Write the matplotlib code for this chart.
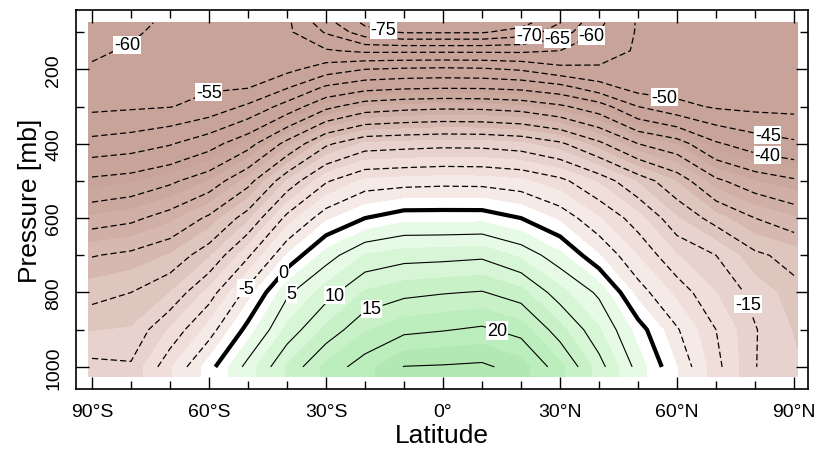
import numpy as np
import matplotlib
matplotlib.use("Agg")
import matplotlib.pyplot as plt
from matplotlib.colors import ListedColormap, BoundaryNorm

plt.rcParams['font.family'] = ['Liberation Sans', 'DejaVu Sans']

# zonal mean temperature [C]
lat = [-90, -80, -70, -60, -50, -40, -30, -20, -10, 0, 10, 20, 30, 40, 50, 60, 70, 80, 90]
pres = [75, 100, 150, 200, 250, 300, 400, 500, 600, 700, 800, 900, 1000]

t_75 = [-63, -62, -58.5, -56.5, -57, -59, -68, -76, -79, -79, -79, -77, -70, -61, -54.5, -54, -53.5, -53.5, -53.5]
t_100 = [-62.5, -61, -58, -56.5, -57, -59, -65.5, -73, -75.5, -75.5, -75.5, -73, -67.5, -60, -54.5, -54, -53.5, -53.5, -53.5]
t_150 = [-61, -59.3, -57.5, -56, -56.5, -58, -59.5, -61, -61, -61, -61, -61, -60, -57, -54.5, -54, -53.5, -53.5, -53]
t_200 = [-59.3, -58.1, -57, -55.8, -56, -56.3, -52.5, -50, -49.3, -49, -49.3, -50.5, -53.6, -54.4, -54, -53.5, -53, -53, -52.5]
t_250 = [-57.8, -56.9, -56.3, -55.5, -55.1, -50.2, -44, -41.4, -40.5, -40.2, -40.3, -41, -43, -47.7, -52, -52, -52, -52.5, -52]
t_300 = [-56.2, -55.7, -55.2, -53.3, -49.1, -43, -36.2, -32.5, -31.5, -31, -31.2, -32, -34.2, -37.7, -45, -48.6, -50.6, -51.3, -51.5]
t_400 = [-48.5, -47.5, -45.4, -41.9, -36.7, -28.6, -20.7, -17, -16.5, -16.1, -16.2, -17, -19.3, -24.1, -30, -32.9, -39.4, -42.5, -44.2]
t_500 = [-39, -38, -35.8, -32.5, -26.4, -17.4, -10.4, -6.9, -6.4, -6.1, -6.2, -7, -9.1, -12.9, -17.9, -22.7, -29.2, -32.5, -34.4]
t_600 = [-32, -30.9, -28.3, -24.3, -18.2, -9, -3.1, 0, 1.7, 1.7, 1.7, 0, -3.1, -7.3, -11.5, -17.3, -21.4, -25, -27.4]
t_700 = [-25.2, -24.2, -22.3, -18, -10.5, -2.3, 3.6, 7.7, 8.8, 9.0, 9.4, 7, 3.2, -2.4, -7.6, -12.4, -15, -19.3, -21.2]
t_800 = [-21.1, -20, -17.5, -11.6, -3.8, 4.4, 8.8, 12.8, 14.2, 14.8, 15.2, 13.4, 8.4, 4.4, -3.6, -8.3, -12.5, -16, -19]
t_900 = [-17.7, -17.3, -12.2, -6.5, 1.1, 8.2, 13.1, 17.2, 19.2, 19.8, 20.5, 18.9, 13.4, 7.8, 1.4, -4.7, -10, -14.8, -18]
t_1000 = [-14.2, -14.6, -7.9, -1.2, 6.1, 12.8, 18.2, 21.5, 25.1, 25.3, 25.6, 23.7, 18.3, 11.2, 3.9, -2.5, -9.1, -14.9, -17.2]

x_ticks = [-90, -60, -30, 0, 30, 60, 90]
x_labels = ['90°S', '60°S', '30°S', '0°', '30°N', '60°N', '90°N']
y_ticks = [200, 400, 600, 800, 1000]

temp = np.array([t_75, t_100, t_150, t_200, t_250, t_300, t_400, t_500,
                 t_600, t_700, t_800, t_900, t_1000])
lat = np.array(lat, dtype=float)
pres = np.array(pres, dtype=float)

# shading: bands centred on the contour values
band_colors = [
    (200, 163, 153), (200, 163, 153), (200, 163, 153), (200, 163, 153),
    (200, 163, 153), (200, 163, 153), (200, 163, 153), (200, 163, 153),
    (200, 163, 153), (203, 168, 158), (208, 175, 166), (214, 184, 176),
    (222, 197, 190), (231, 210, 205), (239, 222, 218), (246, 234, 231),
    (255, 255, 255),
    (230, 250, 230), (214, 246, 214), (200, 241, 200), (188, 237, 188), (178, 233, 178),
]
shade_levels = np.arange(-82.5, 30, 5)
cmap = ListedColormap([tuple(c / 255 for c in rgb) for rgb in band_colors])
norm = BoundaryNorm(shade_levels, cmap.N)

fig = plt.figure(figsize=(8.18, 4.56), dpi=100)
ax = fig.add_axes([0.0929, 0.1447, 0.895, 0.8312])

# the shaded field reaches a little past the last grid row / columns
lat_fill = lat.copy()
lat_fill[0] -= 1
lat_fill[-1] += 1
pres_fill = np.append(pres, 1025)
temp_fill = np.vstack([temp, temp[-1]])
ax.contourf(lat_fill, pres_fill, temp_fill, levels=shade_levels, cmap=cmap, norm=norm)

neg = ax.contour(lat, pres, temp, levels=np.arange(-80, 0, 5), colors='black',
                 linewidths=0.9, linestyles=[(0, (5, 2.5))])
zero = ax.contour(lat, pres, temp, levels=[0], colors='black', linewidths=3.0)
pos = ax.contour(lat, pres, temp, levels=np.arange(5, 30, 5), colors='black',
                 linewidths=0.8)

neg_spots = [(-81, 135), (-60.5, 251), (-15.4, 100), (22.0, 108), (29.5, 124),
             (39.5, 138), (56.7, 284), (83, 392), (83, 438), (79.5, 827), (-50.8, 786)]
zero_spots = [(-40.5, 749)]
pos_spots = [(-38, 811), (-27.7, 808), (-18.5, 838), (14.1, 895)]

labels = []
labels += ax.clabel(neg, manual=neg_spots, inline=True, fontsize=13, fmt='%d', inline_spacing=2)
labels += ax.clabel(zero, manual=zero_spots, inline=True, fontsize=13, fmt='%d', inline_spacing=2)
labels += ax.clabel(pos, manual=pos_spots, inline=True, fontsize=13, fmt='%d', inline_spacing=2)
for t in labels:
    t.set_bbox(dict(facecolor='white', edgecolor='none', pad=0.5))
    t.set_rotation(0)

ax.set_xlim(-94.1, 93.6)
ax.set_ylim(1059.5, 40.5)

ax.set_xticks(x_ticks)
ax.set_xticklabels(x_labels)
ax.set_xticks(np.arange(-90, 91, 10), minor=True)
ax.set_yticks(y_ticks)
ax.set_yticklabels([str(v) for v in y_ticks], rotation=90, va='center')
ax.set_yticks(np.arange(100, 1000, 200), minor=True)

ax.tick_params(which='both', direction='in', top=True, right=True, width=1.0,
               labelsize=14, pad=10)
ax.tick_params(which='major', length=9)
ax.tick_params(which='minor', length=6)
for s in ax.spines.values():
    s.set_linewidth(1.2)

ax.set_xlabel('Latitude', fontsize=19, labelpad=2)
ax.set_ylabel('Pressure [mb]', fontsize=19, labelpad=2)

fig.savefig('out.png', dpi=100)
